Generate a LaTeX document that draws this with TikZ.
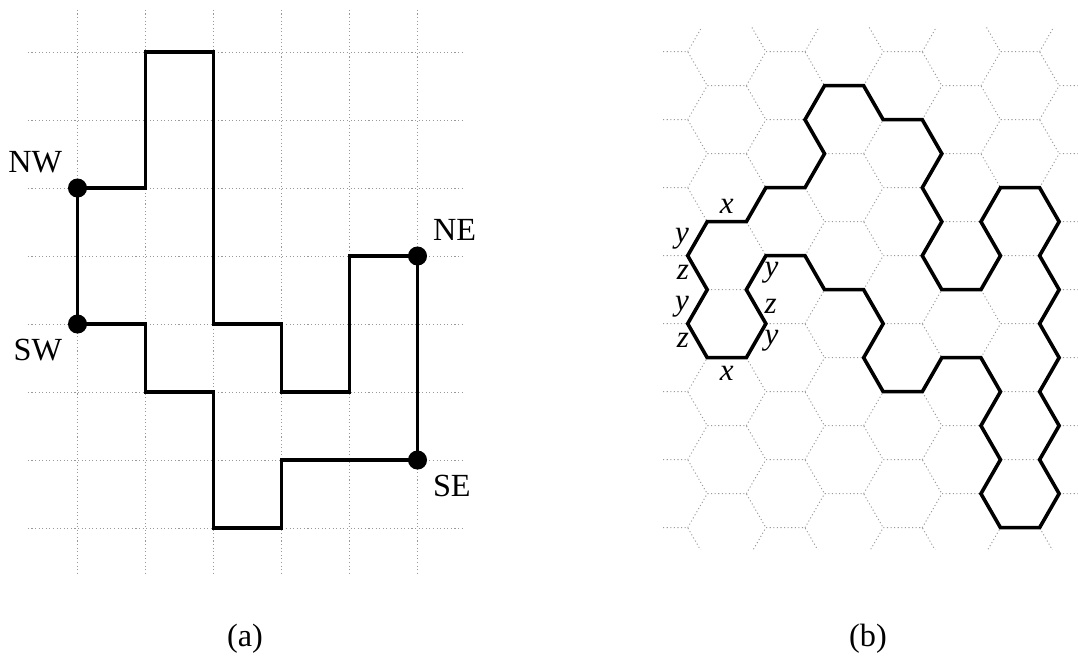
\documentclass[tikz,border=0pt]{standalone}
\usepackage{fontspec}
\setmainfont{Liberation Serif}
\usetikzlibrary{positioning, calc}

\begin{document}
\begin{tikzpicture}
            % Define styles
            \tikzstyle{grid} = [gray!80, line width=0.4pt, dash pattern=on 0.45pt off 1.05pt]
            \tikzstyle{walk} = [line width=1.5pt]
            \tikzstyle{corner} = [circle, fill, inner sep=0pt, minimum size=0.28cm]
            \tikzstyle{tag} = [font=\fontsize{13.5}{15}\selectfont]
            \tikzstyle{side} = [font=\fontsize{13}{15}\selectfont\itshape]
            \tikzstyle{caption} = [font=\fontsize{13.5}{15}\selectfont]

            \useasboundingbox (0,0) rectangle (15.853,-9.824);

            % Square lattice (a)
            \begin{scope}[shift={(1.14,-0.765)}, yscale=-1]
                \foreach \j in {0,...,7}
                    \draw[grid] (-0.73,\j) -- (5.69,\j);
                \foreach \i in {0,...,5}
                    \draw[grid] (\i,-0.62) -- (\i,7.68);

                % Corner points
                \node[corner] (nw) at (0,2) {};
                \node[corner] (sw) at (0,4) {};
                \node[corner] (ne) at (5,3) {};
                \node[corner] (se) at (5,6) {};

                % Closed walk
                \draw[walk] (nw.center) -- ++(1,0) -- ++(0,-2) -- ++(1,0) -- ++(0,4)
                    -- ++(1,0) -- ++(0,1) -- ++(1,0) -- ++(0,-2) -- (ne.center)
                    -- (se.center) -- ++(-2,0) -- ++(0,1) -- ++(-1,0) -- ++(0,-2)
                    -- ++(-1,0) -- ++(0,-1) -- (sw.center) -- cycle;
            \end{scope}

            % Corner labels
            \node[tag, above left=0pt of nw] (nwtag) {NW};
            \node[tag, below left=0pt of sw] (swtag) {SW};
            \node[tag, above right=0pt of ne] (netag) {NE};
            \node[tag, below right=0pt of se] (setag) {SE};

            % Hexagonal lattice (b)
            \begin{scope}[shift={(10.113,-0.760)}, xscale=0.575, yscale=-0.5]
                \begin{scope}
                    \clip (-0.655,-0.70) rectangle (9.98,14.63);
                    \foreach \r in {0,2,...,16}
                        \foreach \c in {1,4,7,10}
                            \draw[grid] (\c-1,\r) -- (\c-0.5,\r-1) -- (\c+0.5,\r-1) -- (\c+1,\r);
                    \foreach \r in {-1,1,...,15}
                        \foreach \c in {-0.5,2.5,5.5,8.5}
                            \draw[grid] (\c-1,\r) -- (\c-0.5,\r-1) -- (\c+0.5,\r-1) -- (\c+1,\r);
                \end{scope}

                % Closed walk
                \draw[walk] (0.5,5) -- (1.5,5) -- (2,4) -- (3,4) -- (3.5,3) -- (3,2)
                    -- (3.5,1) -- (4.5,1) -- (5,2) -- (6,2) -- (6.5,3) -- (6,4)
                    -- (6.5,5) -- (6,6) -- (6.5,7) -- (7.5,7) -- (8,6) -- (7.5,5)
                    -- (8,4) -- (9,4) -- (9.5,5) -- (9,6) -- (9.5,7) -- (9,8)
                    -- (9.5,9) -- (9,10) -- (9.5,11) -- (9,12) -- (9.5,13) -- (9,14)
                    -- (8,14) -- (7.5,13) -- (8,12) -- (7.5,11) -- (8,10) -- (7.5,9)
                    -- (6.5,9) -- (6,10) -- (5,10) -- (4.5,9) -- (5,8) -- (4.5,7)
                    -- (3.5,7) -- (3,6) -- (2,6) -- (1.5,7) -- (2,8) -- (1.5,9)
                    -- (0.5,9) -- (0,8) -- (0.5,7) -- (0,6) -- cycle;

                % Edge labels
                \node[side, above] (xa) at (1,5) {x};
                \node[side, left] (ya) at (0.25,5.5) {y};
                \node[side, left] (za) at (0.25,6.5) {z};
                \node[side, left] (yb) at (0.25,7.5) {y};
                \node[side, left] (zb) at (0.25,8.5) {z};
                \node[side, below] (xb) at (1,9) {x};
                \node[side, right] (yc) at (1.75,8.5) {y};
                \node[side, right] (zc) at (1.75,7.5) {z};
                \node[side, right] (yd) at (1.75,6.5) {y};
            \end{scope}

            % Captions
            \node[caption] (capa) at (3.603,-9.40) {(a)};
            \node[caption] (capb) at (12.765,-9.40) {(b)};
\end{tikzpicture}
\end{document}
